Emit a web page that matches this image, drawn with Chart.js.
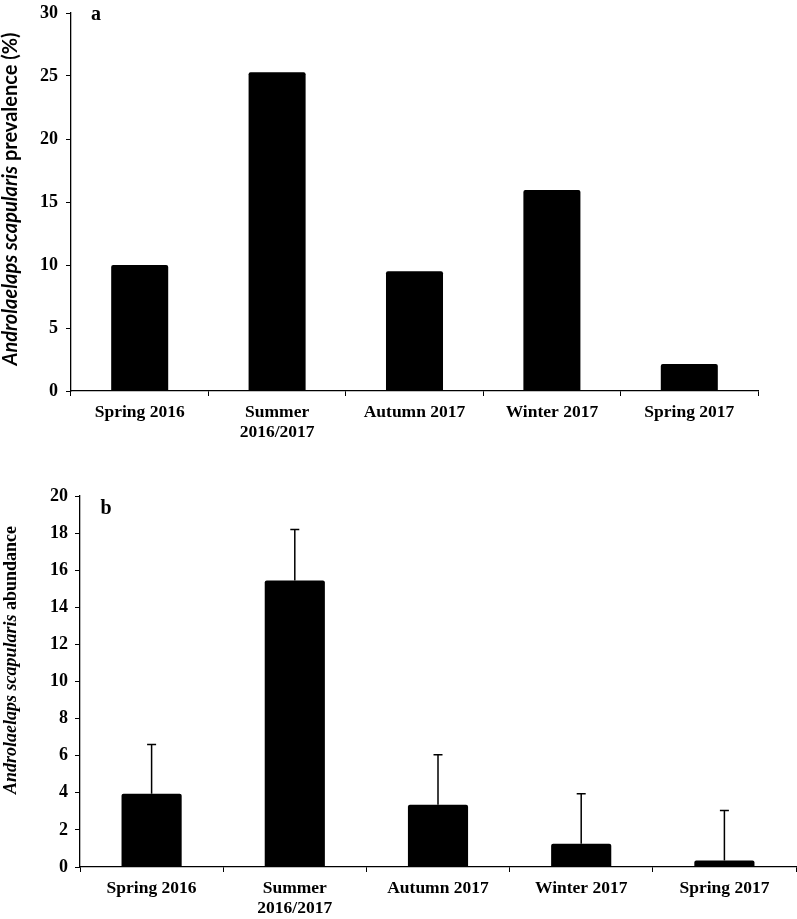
<!DOCTYPE html>
<html>
<head>
<meta charset="utf-8">
<script src="https://cdn.jsdelivr.net/npm/chart.js@4"></script>
<style>
  body { margin: 0; background: #fff; }
  #wrap { position: relative; width: 797px; height: 919px; }
  canvas { position: absolute; left: 0; }
  #chartA { top: 0; }
  #chartB { top: 460px; }
</style>
</head>
<body>
<div id="wrap">
  <canvas id="chartA" width="797" height="460"></canvas>
  <canvas id="chartB" width="797" height="459"></canvas>
</div>
<script>
// seasons (x axis)
const categories = ["Spring 2016", ["Summer", "2016/2017"], "Autumn 2017", "Winter 2017", "Spring 2017"];

// a: prevalence (%)
const prevalence = [10.0, 25.3, 9.5, 15.95, 2.15];
// b: mean abundance and upper error
const abundance = [3.95, 15.45, 3.35, 1.25, 0.35];
const abundanceErr = [2.65, 2.75, 2.7, 2.7, 2.7];

const serif = "'Liberation Serif', 'Times New Roman', serif";
const xTickFont = { family: serif, size: 17.5, weight: "bold", lineHeight: 1.15 };
const yTickFont = { family: serif, size: 18, weight: "bold" };

// y title with italic genus/species part + panel letter
const titlePlugin = {
  id: "sideTitle",
  afterDraw(chart, args, opts) {
    const ctx = chart.ctx;
    ctx.save();
    ctx.fillStyle = "#000";
    // panel letter
    ctx.font = "bold 20px " + serif;
    ctx.textBaseline = "middle";
    ctx.textAlign = "center";
    ctx.fillText(opts.letter, opts.letterX, opts.letterY);

    // rotated title
    ctx.translate(opts.x, opts.y);
    ctx.rotate(-Math.PI / 2);
    ctx.textAlign = "left";
    ctx.font = opts.italicFont;
    const w1 = ctx.measureText(opts.italic).width;
    ctx.font = opts.plainFont;
    const w2 = ctx.measureText(opts.plain).width;
    let x0 = -(w1 + w2) / 2;
    ctx.font = opts.italicFont;
    ctx.fillText(opts.italic, x0, 0);
    ctx.font = opts.plainFont;
    ctx.fillText(opts.plain, x0 + w1, 0);
    ctx.restore();
  }
};

// upper-only error bars
const errorPlugin = {
  id: "errorBars",
  afterDatasetsDraw(chart, args, opts) {
    if (!opts.errors) return;
    const ctx = chart.ctx;
    const y = chart.scales.y;
    const meta = chart.getDatasetMeta(0);
    ctx.save();
    ctx.strokeStyle = "#000";
    ctx.lineWidth = 1.5;
    meta.data.forEach((bar, i) => {
      const yb = y.getPixelForValue(opts.values[i]);
      const yt = y.getPixelForValue(opts.values[i] + opts.errors[i]);
      ctx.beginPath();
      ctx.moveTo(bar.x, yb);
      ctx.lineTo(bar.x, yt);
      ctx.moveTo(bar.x - 4.5, yt);
      ctx.lineTo(bar.x + 4.5, yt);
      ctx.stroke();
    });
    ctx.restore();
  }
};

function makeOptions(cfg) {
  return {
    responsive: false,
    animation: false,
    layout: { padding: { top: cfg.top, right: cfg.right, left: 0, bottom: 0 } },
    plugins: {
      legend: { display: false },
      tooltip: { enabled: false },
      sideTitle: cfg.title,
      errorBars: cfg.errors || {}
    },
    scales: {
      x: {
        grid: { drawOnChartArea: false, tickLength: 5, color: "#000", offset: true },
        border: { color: "#000", width: 1.3 },
        ticks: { font: xTickFont, color: "#000", padding: 6, maxRotation: 0, autoSkip: false },
        afterFit: s => { s.height = cfg.xHeight; }
      },
      y: {
        min: 0,
        max: cfg.max,
        ticks: { stepSize: cfg.step, font: yTickFont, color: "#000", padding: cfg.yPad },
        grid: { drawOnChartArea: false, tickLength: 5, color: "#000" },
        border: { color: "#000", width: 1.3 },
        afterFit: s => {
          s.width = cfg.yWidth;
          s.paddingTop = 0;
          s.paddingBottom = 0;
        }
      }
    }
  };
}

new Chart(document.getElementById("chartA"), {
  type: "bar",
  data: {
    labels: categories,
    datasets: [{
      data: prevalence,
      backgroundColor: "#000",
      borderRadius: 2,
      borderSkipped: "bottom",
      categoryPercentage: 1,
      barPercentage: 0.415
    }]
  },
  options: makeOptions({
    top: 13, right: 39, xHeight: 69, yWidth: 71, max: 30, step: 5, yPad: 8,
    title: {
      letter: "a", letterX: 96, letterY: 15,
      x: 11, y: 199,
      italic: "Androlaelaps scapularis", plain: " prevalence (%)",
      italicFont: "italic bold 20px Lato, 'Open Sans', sans-serif",
      plainFont: "bold 20px Lato, 'Open Sans', sans-serif"
    }
  }),
  plugins: [titlePlugin, errorPlugin]
});

new Chart(document.getElementById("chartB"), {
  type: "bar",
  data: {
    labels: categories,
    datasets: [{
      data: abundance,
      backgroundColor: "#000",
      borderRadius: 2,
      borderSkipped: "bottom",
      categoryPercentage: 1,
      barPercentage: 0.42
    }]
  },
  options: makeOptions({
    top: 36, right: 1, xHeight: 52, yWidth: 80, max: 20, step: 2, yPad: 7,
    title: {
      letter: "b", letterX: 106, letterY: 49,
      x: 11, y: 200,
      italic: "Androlaelaps scapularis", plain: " abundance",
      italicFont: "italic bold 18px " + serif,
      plainFont: "bold 18px " + serif
    },
    errors: { values: abundance, errors: abundanceErr }
  }),
  plugins: [titlePlugin, errorPlugin]
});
</script>
</body>
</html>
